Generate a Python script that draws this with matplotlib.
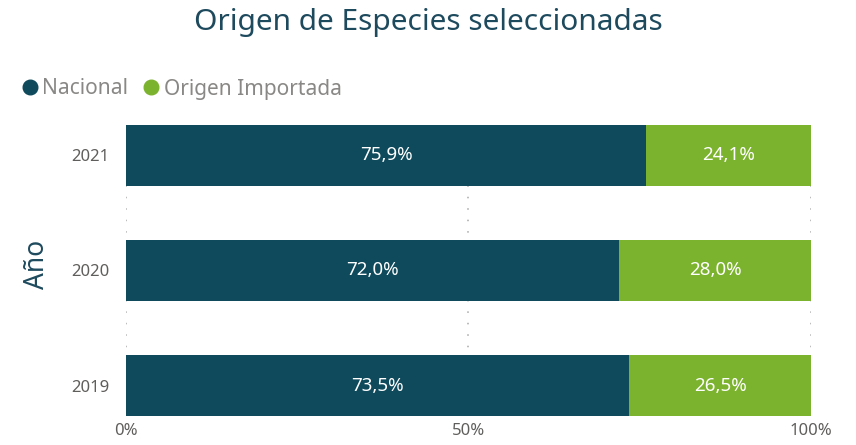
import matplotlib.pyplot as plt
from matplotlib.lines import Line2D

years = ['2019', '2020', '2021']
nacional = [73.5, 72.0, 75.9]
importada = [26.5, 28.0, 24.1]
series_names = ['Nacional', 'Origen Importada']
colors = ['#0f4a5c', '#7cb32e']
x_ticks = [0, 50, 100]
x_tick_labels = ['0%', '50%', '100%']

plt.rcParams['font.family'] = ['Noto Sans', 'DejaVu Sans']

fig = plt.figure(figsize=(8.56, 4.45), dpi=100)
ax = fig.add_axes([0.1472, 0.0652, 0.8002, 0.6539])

ypos = list(range(len(years)))
h = 0.53
ax.barh(ypos, nacional, height=h, color=colors[0], zorder=2)
ax.barh(ypos, importada, left=nacional, height=h, color=colors[1], zorder=2)

fmt = lambda v: f'{v:.1f}%'.replace('.', ',')
for y, a, b in zip(ypos, nacional, importada):
    ax.text(a / 2, y, fmt(a), ha='center', va='center', color='white', fontsize=13.5, zorder=3)
    ax.text(a + b / 2, y, fmt(b), ha='center', va='center', color='white', fontsize=13.5, zorder=3)

ax.set_xlim(0, 100)
ax.set_ylim(-h / 2, len(years) - 1 + h / 2)
ax.set_yticks(ypos)
ax.set_yticklabels(years)
ax.set_xticks(x_ticks)
ax.set_xticklabels(x_tick_labels)
ax.tick_params(length=0, labelsize=12, labelcolor='#605e5c')
ax.tick_params(axis='y', pad=12)
ax.tick_params(axis='x', pad=5)
ax.grid(axis='x', linestyle=(0, (1, 6.5)), color='#a8a8a8', linewidth=1.1, zorder=1)
for s in ax.spines.values():
    s.set_visible(False)

ax.set_ylabel('Año', fontsize=19, color='#1e4a5e')
ax.yaxis.set_label_coords(-0.11, 0.52)

fig.text(0.5, 0.95, 'Origen de Especies seleccionadas', ha='center', va='center',
         fontsize=21.5, color='#1e4a5e')

handles = [Line2D([], [], marker='o', linestyle='none', markersize=10.5,
                  markerfacecolor=c, markeredgecolor=c) for c in colors]
fig.legend(handles, series_names, loc='center left', bbox_to_anchor=(0.013, 0.80),
           frameon=False, fontsize=15, labelcolor='#8a8886', ncol=2,
           handletextpad=0.1, columnspacing=0.6, handlelength=1.0, borderaxespad=0)

fig.savefig('out.png', dpi=100)
